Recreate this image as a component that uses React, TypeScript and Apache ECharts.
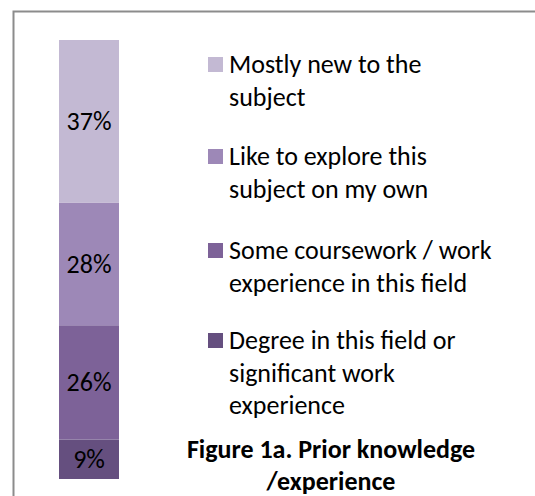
import React, { useEffect, useRef } from 'react';
import * as echarts from 'echarts';

const categories = ['Prior knowledge'];
const seriesNames = [
  'Degree in this field or significant work experience',
  'Some coursework / work experience in this field',
  'Like to explore this subject on my own',
  'Mostly new to the subject',
];
const seriesValues = [9, 26, 28, 37];
const seriesColors = ['#654f7f', '#7d6298', '#9d88b7', '#c3b9d3'];
const legendOrder = [3, 2, 1, 0];
const legendLabels = [
  'Mostly new to the\nsubject',
  'Like to explore this\nsubject on my own',
  'Some coursework / work\nexperience in this field',
  'Degree in this field or\nsignificant work\nexperience',
];
const titleText = 'Figure 1a. Prior knowledge\n/experience';

const FONT = 'Carlito, Calibri, Lato, sans-serif';

export default function App() {
  const ref = useRef<HTMLDivElement>(null);
  useEffect(() => {
    if (!ref.current) return;
    const chart = echarts.init(ref.current, undefined, { renderer: 'svg' });
    const legendCenters = [64, 156, 250, 340];
    const legendGraphics: any[] = [];
    legendOrder.forEach((si, i) => {
      const c = legendCenters[i];
      legendGraphics.push({
        type: 'rect',
        shape: { x: 208, y: c - 7, width: 15, height: 15 },
        style: { fill: seriesColors[si] },
      });
      legendGraphics.push({
        type: 'text',
        x: 229,
        y: c - 16,
        style: {
          text: legendLabels[i],
          fill: '#000',
          fontFamily: FONT,
          fontSize: 26,
          lineHeight: 32.5,
          verticalAlign: 'top',
        },
      });
    });
    chart.setOption({
      animation: false,
      backgroundColor: '#fff',
      grid: { left: 59, top: 40, width: 60, height: 439 },
      xAxis: {
        type: 'category',
        data: categories,
        show: false,
      },
      yAxis: { type: 'value', min: 0, max: 100, show: false },
      series: seriesNames.map((name, i) => ({
        name,
        type: 'bar',
        stack: 'total',
        barWidth: '100%',
        data: [seriesValues[i]],
        itemStyle: { color: seriesColors[i] },
        label: {
          show: true,
          position: 'inside',
          formatter: '{c}%',
          color: '#000',
          fontFamily: FONT,
          fontSize: 26,
        },
      })),
      graphic: [
        {
          type: 'rect',
          shape: { x: 13.5, y: 11.5, width: 700, height: 700 },
          style: { fill: 'none', stroke: '#8c8c8c', lineWidth: 2 },
        },
        ...legendGraphics,
        {
          type: 'text',
          x: 331,
          y: 433,
          style: {
            text: titleText,
            fill: '#000',
            fontFamily: FONT,
            fontSize: 26,
            fontWeight: 'bold',
            lineHeight: 32,
            align: 'center',
            verticalAlign: 'top',
          },
        },
      ],
    });
    return () => chart.dispose();
  }, []);
  return (
    <div
      ref={ref}
      style={{ position: 'fixed', left: 0, top: 0, width: 535, height: 496, background: '#fff' }}
    />
  );
}
